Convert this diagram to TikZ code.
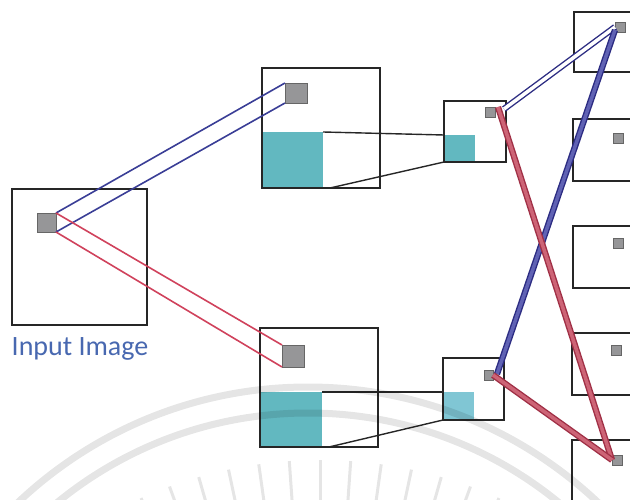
\documentclass[tikz,border=0pt]{standalone}
\usepackage{fontspec}
\newfontfamily\labelfont{Carlito}
\definecolor{tealpatch}{RGB}{98,184,192}
\definecolor{tealpale}{RGB}{128,198,212}
\definecolor{unitgrey}{RGB}{150,150,152}
\definecolor{rfblue}{RGB}{58,62,150}
\definecolor{rfred}{RGB}{208,66,92}
\definecolor{tubeblue}{RGB}{44,44,130}
\definecolor{tubebluein}{RGB}{96,98,180}
\definecolor{tubered}{RGB}{160,48,70}
\definecolor{tuberedin}{RGB}{205,100,118}
\definecolor{labelblue}{RGB}{72,104,176}
\begin{document}
\begin{tikzpicture}[x=1pt,y=-1pt,
  sz/.style 2 args={minimum width=#1pt, minimum height=#2pt},
  frame/.style={draw=black!85, line width=1.8pt, inner sep=0pt, outer sep=0pt, anchor=north west},
  unit/.style={fill=unitgrey, draw=black!60, line width=0.9pt, inner sep=0pt, outer sep=0pt, anchor=north west},
  patch/.style={fill=tealpatch, inner sep=0pt, outer sep=0pt, anchor=north west},
  link/.style={draw=black!85, line width=1.4pt},
  rfb/.style={draw=rfblue, line width=1.6pt},
  rfr/.style={draw=rfred, line width=1.6pt},
  tubeb/.style={draw=tubeblue, line width=1.4pt, double=tubebluein, double distance=3.5pt},
  tuber/.style={draw=tubered, line width=1.4pt, double=tuberedin, double distance=3.5pt},
  caption/.style={text=labelblue, font=\labelfont\fontsize{28}{28}\selectfont, inner sep=0pt},
  wmark/.style={draw=black, opacity=0.10, line width=7pt}]
\clip (0,0) rectangle (630,500);
\useasboundingbox (0,0) rectangle (630,500);

% feature-map patches
\node[patch, sz={61}{56}] (tA) at (262,132) {};
\node[patch, sz={62}{55}] (tB) at (260,392) {};
\node[patch, sz={31}{27}] (tcA) at (444,135) {};
\node[patch, sz={31}{28}, fill=tealpale] (tcB) at (443,392) {};

% layer frames
\node[frame, sz={135}{136}] (in) at (12,189) {};
\node[frame, sz={118}{120}] (bA) at (262,68) {};
\node[frame, sz={118}{119}] (bB) at (260,328) {};
\node[frame, sz={62}{61}] (cA) at (444,101) {};
\node[frame, sz={61}{62}] (cB) at (443,358) {};
\node[frame, sz={80}{60}] (r1) at (574,12) {};
\node[frame, sz={80}{62}] (r2) at (573,119) {};
\node[frame, sz={80}{62}] (r3) at (573,226) {};
\node[frame, sz={80}{62}] (r4) at (572,333) {};
\node[frame, sz={80}{80}] (r5) at (572,440) {};

% pooling links
\draw[link] (tA.north east) -- (tcA.north west);
\draw[link] ([xshift=7pt]tA.south east) -- (cA.south west);
\draw[link] (tB.north east) -- (tcB.north west);
\draw[link] ([xshift=7pt]tB.south east) -- (cB.south west);

% units
\node[unit, sz={19}{19}] (s0) at (37,213) {};
\node[unit, sz={22}{20}] (sA) at (285,83) {};
\node[unit, sz={22}{22}] (sB) at (282,345) {};
\node[unit, sz={10}{10}] (sC) at (485,107) {};
\node[unit, sz={9}{10}] (sD) at (484,370) {};
\node[unit, sz={10}{10}] (s1) at (615,22) {};
\node[unit, sz={10}{10}] (s2) at (613,133) {};
\node[unit, sz={10}{10}] (s3) at (613,238) {};
\node[unit, sz={10}{10}] (s4) at (611,345) {};
\node[unit, sz={10}{10}] (s5) at (612,455) {};

% receptive fields of the first layer
\draw[rfb] (s0.north east) -- (sA.north west);
\draw[rfb] (s0.south east) -- (sA.south west);
\draw[rfr] (s0.north east) -- (sB.north west);
\draw[rfr] (s0.south east) -- (sB.south west);

% connections into the last layer
\draw[tubeb, double=white] ([shift={(9pt,-2pt)}]sC.north east) -- (s1.west);
\draw[tubeb] ([shift={(4pt,-4pt)}]sD.north east) -- ([yshift=2pt]s1.south west);
\draw[tuber] ([xshift=3pt]sC.north east) -- (s5.west);
\draw[tuber] (sD.east) -- (s5.west);

\node[caption] (lbl) at (80,349) {Input Image};

% faint seal in the background
\draw[wmark] (308,809) circle[radius=422pt];
\draw[wmark] (308,809) circle[radius=396pt];
\foreach \a in {66,70,...,114}
  \draw[wmark, line width=3pt] (320,900) ++(-\a:392) -- ++(-\a:48);
\end{tikzpicture}
\end{document}
